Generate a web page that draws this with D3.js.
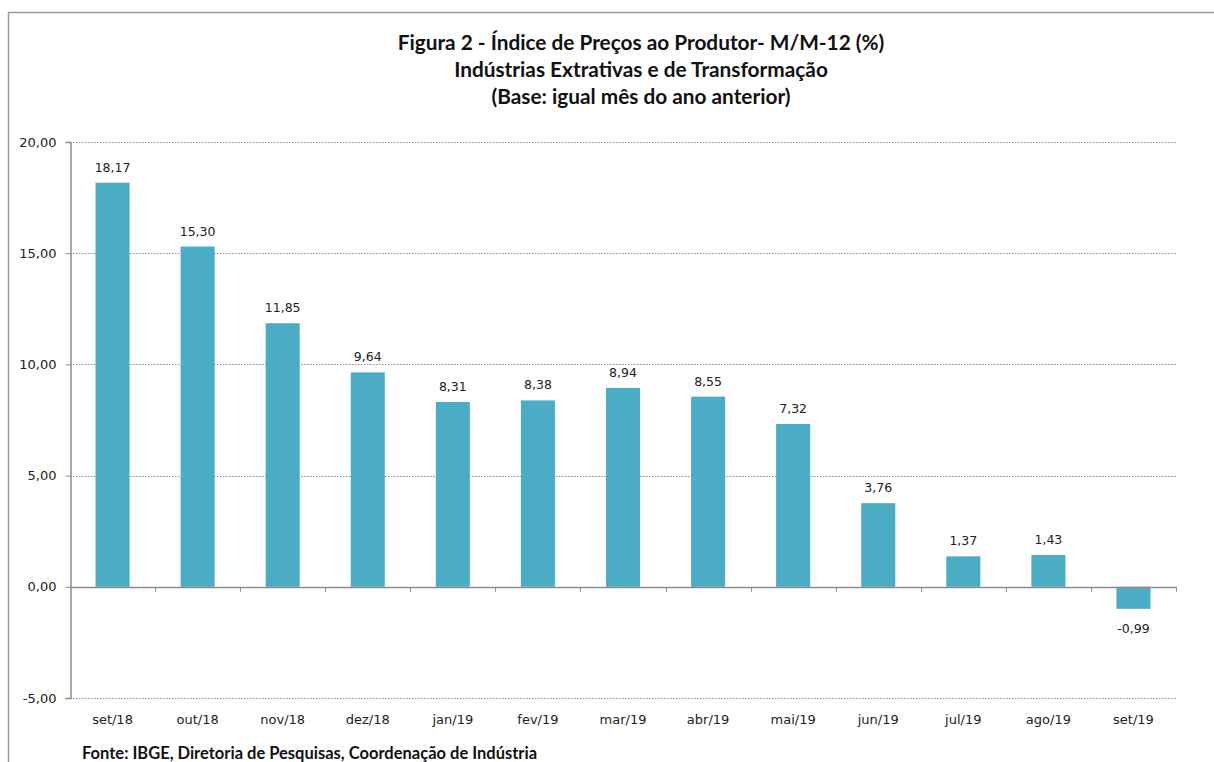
<!DOCTYPE html>
<html>
<head>
<meta charset="utf-8">
<style>
  body { margin: 0; background: #fff; }
  svg { display: block; }
</style>
</head>
<body>
<svg id="chart" width="1214" height="762"></svg>
<script src="https://cdn.jsdelivr.net/npm/d3@7"></script>
<script>
    // dados
    const meses = ["set/18", "out/18", "nov/18", "dez/18", "jan/19", "fev/19", "mar/19",
                   "abr/19", "mai/19", "jun/19", "jul/19", "ago/19", "set/19"];
    const valores = [18.17, 15.30, 11.85, 9.64, 8.31, 8.38, 8.94, 8.55, 7.32, 3.76, 1.37, 1.43, -0.99];
    const yTicks = [-5, 0, 5, 10, 15, 20];
    const titulo = [
        "Figura 2 - Índice de Preços ao Produtor- M/M-12 (%)",
        "Indústrias Extrativas e de Transformação",
        "(Base: igual mês do ano anterior)"
    ];
    const fonte = "Fonte: IBGE, Diretoria de Pesquisas, Coordenação de Indústria";

    const svg = d3.select("#chart");
    const fmt = v => d3.format(".2f")(v).replace(".", ",").replace("−", "-");

    // moldura
    svg.append("rect")
        .attr("x", 8.5).attr("y", 12.5)
        .attr("width", 1230).attr("height", 800)
        .attr("fill", "none").attr("stroke", "#9a9a9a").attr("stroke-width", 1.5);

    const x = d3.scaleBand().domain(meses).range([70, 1176]).paddingInner(0.6).paddingOuter(0.3);
    const y = d3.scaleLinear().domain([-5, 20]).range([698, 142]);

    // titulo
    svg.append("g").selectAll("text")
        .data(titulo)
        .join("text")
        .attr("x", 641)
        .attr("y", (d, i) => 50 + i * 27)
        .attr("text-anchor", "middle")
        .style("font-family", "Lato, 'Open Sans', sans-serif")
        .style("font-weight", "bold")
        .style("font-size", "20.8px")
        .style("fill", "#111")
        .text(d => d);

    // grade pontilhada
    svg.append("g").selectAll("line")
        .data(yTicks.filter(d => d !== 0))
        .join("line")
        .attr("x1", 70).attr("x2", 1176)
        .attr("y1", d => Math.round(y(d)) + 0.5).attr("y2", d => Math.round(y(d)) + 0.5)
        .attr("stroke", "#8c8c8c").attr("stroke-width", 1)
        .attr("stroke-dasharray", "1.5,1.5");

    // eixo y
    const yAxis = svg.append("g")
        .attr("transform", "translate(70.5,0)")
        .call(d3.axisLeft(y).tickValues(yTicks).tickSize(5).tickPadding(9).tickFormat(fmt));
    yAxis.select(".domain").attr("stroke", "#8c8c8c").attr("stroke-width", 1.5);
    yAxis.selectAll(".tick line").attr("stroke", "#8c8c8c");
    yAxis.selectAll(".tick text")
        .style("font-family", "'DejaVu Sans', Verdana, sans-serif")
        .style("font-size", "13px").style("fill", "#222");

    // barras
    svg.append("g").selectAll("rect")
        .data(valores)
        .join("rect")
        .attr("x", (d, i) => x(meses[i]))
        .attr("width", x.bandwidth())
        .attr("y", d => y(Math.max(0, d)))
        .attr("height", d => Math.abs(y(d) - y(0)))
        .attr("fill", "#4bacc6");

    // rotulos de valor
    svg.append("g").selectAll("text")
        .data(valores)
        .join("text")
        .attr("x", (d, i) => x(meses[i]) + x.bandwidth() / 2)
        .attr("y", d => d >= 0 ? y(d) - 11 : y(d) + 24)
        .attr("text-anchor", "middle")
        .style("font-family", "'DejaVu Sans', Verdana, sans-serif")
        .style("font-size", "12.5px")
        .style("fill", "#222")
        .text(d => fmt(d));

    // eixo x na linha do zero
    const xb = d3.scaleBand().domain(meses).range([70, 1176]);
    svg.append("line")
        .attr("x1", 70).attr("x2", 1176)
        .attr("y1", Math.round(y(0)) + 0.5).attr("y2", Math.round(y(0)) + 0.5)
        .attr("stroke", "#8c8c8c").attr("stroke-width", 1.5);
    svg.append("g").selectAll("line")
        .data(meses.slice(1).concat(["_fim"]))
        .join("line")
        .attr("x1", (d, i) => Math.round(i < meses.length - 1 ? xb(d) : 1176) + 0.5)
        .attr("x2", (d, i) => Math.round(i < meses.length - 1 ? xb(d) : 1176) + 0.5)
        .attr("y1", y(0)).attr("y2", y(0) + 5)
        .attr("stroke", "#8c8c8c");

    // rotulos de categoria
    svg.append("g").selectAll("text")
        .data(meses)
        .join("text")
        .attr("x", d => xb(d) + xb.bandwidth() / 2)
        .attr("y", 724)
        .attr("text-anchor", "middle")
        .style("font-family", "'DejaVu Sans', Verdana, sans-serif")
        .style("font-size", "13px")
        .style("fill", "#222")
        .text(d => d);

    // fonte
    svg.append("text")
        .attr("x", 82).attr("y", 759)
        .style("font-family", "Lato, 'Open Sans', sans-serif")
        .style("font-weight", "bold")
        .style("font-size", "16.5px")
        .style("fill", "#111")
        .text(fonte);
</script>
</body>
</html>
